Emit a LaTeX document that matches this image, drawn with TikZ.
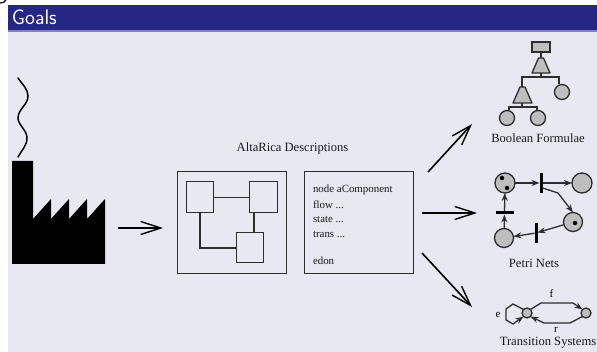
\documentclass[tikz,border=0pt]{standalone}
\usepackage{fontspec}
\setmainfont{Liberation Serif}
\usetikzlibrary{arrows.meta,shapes.geometric}
\definecolor{panel}{RGB}{232,232,243}
\definecolor{band}{RGB}{38,38,132}
\definecolor{bandedge}{RGB}{130,130,190}
\definecolor{fillgray}{RGB}{190,190,190}
\definecolor{ink}{RGB}{45,45,45}
\tikzset{
  x=1pt,y=-1pt,
  every node/.style={inner sep=0pt,outer sep=0pt},
  bigarrow/.style={line width=1.6pt,black,-{Straight Barb[length=20pt,width=13pt,line width=1.4pt]}},
  frame/.style={draw=ink,line width=1pt,fill=panel},
  wire/.style={draw=ink,line width=1.15pt},
  smallbox/.style={frame,minimum width=27.5pt,minimum height=31pt},
  gatebox/.style={draw=ink,fill=fillgray,line width=1.3pt,minimum width=18pt,minimum height=10pt},
  leaf/.style={circle,draw=ink,fill=fillgray,line width=1.3pt,minimum size=15pt},
  place/.style={circle,draw=ink,fill=fillgray,line width=1.3pt,minimum size=20pt},
  state/.style={circle,draw=ink,fill=fillgray,line width=1.3pt,minimum size=10pt},
  token/.style={circle,fill=black,minimum size=4.5pt},
  bar/.style={fill=black,minimum width=3pt,minimum height=20pt},
  hbar/.style={fill=black,minimum width=18pt,minimum height=3pt},
  gate/.style={fill=fillgray,draw=ink,line width=1.3pt,line join=round},
  flow/.style={draw=ink,line width=1.3pt,-{Stealth[length=8pt,width=6pt]}},
  lab/.style={font=\fontsize{12.6}{12.6}\selectfont,text=black!90},
  code/.style={font=\fontsize{10.9}{10.9}\selectfont,text=black!90,anchor=west},
  small/.style={font=\fontsize{11}{11}\selectfont,text=black},
}
\begin{document}
\begin{tikzpicture}
\useasboundingbox (0,0) rectangle (597,352);
\fill[white] (0,0) rectangle (597,352);
\fill[panel] (8,5) rectangle (597,352);
\fill[band] (8,5) rectangle (597,30);
\fill[bandedge] (8,30) rectangle (597,32);
\node[anchor=west,text=white,font=\sffamily\fontsize{21}{21}\selectfont] (title) at (12,17) {Goals};
\draw[line width=1.2pt] (0,3) .. controls (3,3) and (5,2) .. (6,0);
% factory
\fill[black] (12,161) -- (33,161) -- (33,219) -- (51,199) -- (51,219) -- (69,199) -- (69,219) -- (87,199) -- (87,219) -- (105,199) -- (105,264) -- (12,264) -- cycle;
\draw[line width=1.5pt,line cap=round] (18,78) .. controls (22,84) and (28,89) .. (28,96) .. controls (28,105) and (18,109) .. (18,118) .. controls (18,125) and (27,130) .. (27,138) .. controls (27,146) and (21,151) .. (18,157);
\coordinate (factoryout) at (118,228);
\coordinate (modelin) at (163,228);
\draw[bigarrow] (factoryout) -- (modelin);
% AltaRica
\node[lab] (alta) at (292.5,148) {AltaRica Descriptions};
\node[frame,minimum width=109.5pt,minimum height=102pt] (model) at (231.75,223) {};
\node[frame,minimum width=109pt,minimum height=102pt] (text) at (358.5,223) {};
\node[smallbox] (a) at (199.75,197.5) {};
\node[smallbox] (b) at (263.5,197.5) {};
\node[smallbox,minimum height=30pt] (c) at (250,248) {};
\draw[wire] (a.east) -- (b.west);
\draw[wire] (a.south -| 200,0) |- (c.west);
\draw[wire] (b.south -| 254,0) -- (c.north -| 254,0);
\node[code] (l1) at (313,189.5) {node aComponent};
\node[code] (l2) at (313,205) {flow ...};
\node[code] (l3) at (313,220) {state ...};
\node[code] (l4) at (313,235) {trans ...};
\node[code] (l5) at (313,260.5) {edon};
% big arrows
\coordinate (o1) at (428,172); \coordinate (t1) at (472,124);
\coordinate (o2) at (422,213); \coordinate (t2) at (477,213);
\coordinate (o3) at (422,253); \coordinate (t3) at (472,307);
\draw[bigarrow] (o1) -- (t1);
\draw[bigarrow] (o2) -- (t2);
\draw[bigarrow] (o3) -- (t3);
% fault tree
\node[gatebox] (top) at (541,47) {};
\filldraw[gate] (538.5,58) -- (543.5,58) -- (550,73) -- (532,73) -- cycle;
\coordinate (g1t) at (541,58); \coordinate (g1b) at (541,73);
\filldraw[gate] (520,87) -- (525,87) -- (532,103) -- (513,103) -- cycle;
\coordinate (g2t) at (522,87); \coordinate (g2b) at (522,103);
\node[leaf] (r) at (562,92) {};
\node[leaf] (l) at (507,118) {};
\node[leaf] (m) at (538,118) {};
\draw[wire] (top) -- (g1t);
\draw[wire] (g1b) -- (541,77);
\draw[wire] (g2t) |- (541,77);
\draw[wire] (r.north -| 559,0) |- (541,77);
\draw[wire] (g2b) -- (522,107);
\draw[wire] (l.north -| 509,0) |- (522,107);
\draw[wire] (m.north -| 537,0) |- (522,107);
\node[lab] (bf) at (538,138) {Boolean Formulae};
% Petri
\node[place] (pa) at (505,183) {};
\node[place] (pb) at (582,183) {};
\node[place,minimum size=19pt] (pc) at (573,222) {};
\node[place,minimum size=19pt] (pd) at (504,238) {};
\node[token] (ta1) at (502,178) {};
\node[token] (ta2) at (507,188) {};
\node[token] (tc) at (575,223) {};
\node[bar] (b1) at (541,183) {};
\node[bar] (b2) at (536,233) {};
\node[hbar] (b3) at (504.5,213) {};
\draw[flow] (pa) -- (b1);
\draw[flow] (b1) -- (pb);
\draw[flow] (b1.east |- 0,188) -- (558,193) -- (pc.north);
\draw[flow] (pc) -- (b2);
\draw[flow] (b2) -- (pd);
\draw[flow] (pd) -- (b3);
\draw[flow] (b3) -- (pa);
\node[lab] (pn) at (534,263) {Petri Nets};
% transition system
\node[state] (s1) at (527,313) {};
\node[state] (s2) at (586,313) {};
\draw[flow] (s1.north east) -- (541,303) -- (573,303) -- (s2.north west);
\draw[flow] (s2.south west) -- (570,323) -- (544,323) -- (s1.south east);
\draw[flow] (s1.north west) -- (513,304) -- (506,309) -- (506,320) -- (513,324) -- (s1.south west);
\node[small] (e) at (498,315) {e};
\node[small] (f) at (551.5,294) {f};
\node[small] (rr) at (556,330) {r};
\node[lab] (ts) at (548,343) {Transition Systems};
\end{tikzpicture}
\end{document}
